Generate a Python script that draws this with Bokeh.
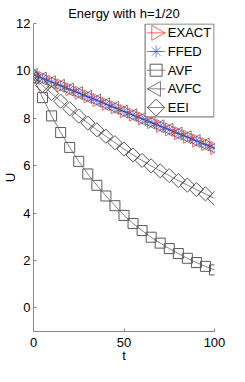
import math
from bokeh.plotting import figure
from bokeh.models import FixedTicker, ColumnDataSource
from bokeh.core.properties import value
from bokeh.embed import file_html
from bokeh.resources import INLINE

t = [0, 5, 10, 15, 20, 25, 30, 35, 40, 45, 50, 55, 60, 65, 70, 75, 80, 85, 90, 95, 100]
exact = [9.85, 9.70, 9.54, 9.39, 9.23, 9.08, 8.92, 8.77, 8.61, 8.46, 8.30,
         8.15, 7.99, 7.84, 7.68, 7.53, 7.37, 7.22, 7.06, 6.91, 6.75]
ffed = [9.84, 9.69, 9.53, 9.38, 9.22, 9.07, 8.91, 8.76, 8.60, 8.45, 8.29,
        8.14, 7.98, 7.83, 7.67, 7.52, 7.36, 7.21, 7.05, 6.90, 6.74]
avf = [9.70, 8.87, 8.10, 7.40, 6.77, 6.18, 5.65, 5.17, 4.72, 4.31, 3.90,
       3.56, 3.26, 2.98, 2.73, 2.50, 2.29, 2.09, 1.91, 1.75, 1.60]
avfc = [9.83, 9.68, 9.52, 9.37, 9.21, 9.06, 8.90, 8.75, 8.59, 8.44, 8.28,
        8.13, 7.97, 7.82, 7.66, 7.51, 7.35, 7.20, 7.04, 6.89, 6.73]
eei = [9.75, 9.39, 9.05, 8.72, 8.40, 8.09, 7.80, 7.51, 7.24, 6.97, 6.70,
       6.45, 6.22, 5.99, 5.78, 5.58, 5.37, 5.18, 4.99, 4.81, 4.62]
legend_labels = ["EXACT", "FFED", "AVF", "AVFC", "EEI"]
x_ticks = [0, 50, 100]
y_ticks = [0, 2, 4, 6, 8, 10, 12]
title_text = "Energy with h=1/20"

FONT = "Liberation Sans"
X0, X1, Y0, Y1 = 0, 100, -1, 12
FW, FH = 186, 310
n = len(t)

def tx(px):
    return X0 + px * (X1 - X0) / FW

def uy(px):
    return Y1 - px * (Y1 - Y0) / FH

src = ColumnDataSource(dict(
    t=t, exact=exact, ffed=ffed, avf=avf, avfc=avfc, eei=eei,
    right=[-math.pi / 2] * n, left=[math.pi / 2] * n, diag=[math.pi / 4] * n,
))

p = figure(width=229, height=366, x_range=(X0, X1), y_range=(Y0, Y1),
           output_backend="svg", toolbar_location=None,
           min_border_left=28, min_border_right=15, min_border_top=21, min_border_bottom=35)
p.outline_line_color = None
p.grid.visible = False
p.background_fill_color = "white"

p.title.text = title_text
p.title.align = "center"
p.title.text_font = FONT
p.title.text_font_size = "13px"
p.title.text_font_style = "normal"
p.title.text_color = "black"
p.title.standoff = 6

for ax in (p.xaxis[0], p.yaxis[0]):
    ax.axis_line_color = "#888888"
    ax.major_tick_line_color = "#888888"
    ax.major_tick_in = 3
    ax.major_tick_out = 0
    ax.minor_tick_line_color = None
    ax.major_label_text_font = FONT
    ax.major_label_text_font_size = "13px"
    ax.major_label_text_color = "black"
    ax.axis_label_text_font = FONT
    ax.axis_label_text_font_size = "13px"
    ax.axis_label_text_font_style = "normal"
    ax.axis_label_text_color = "black"
p.xaxis.ticker = FixedTicker(ticks=x_ticks)
p.yaxis.ticker = FixedTicker(ticks=y_ticks)
p.xaxis.major_label_standoff = 6
p.yaxis.major_label_standoff = 3
p.xaxis.axis_label = "t"
p.xaxis.axis_label_standoff = -2
p.yaxis.axis_label = "U"
p.yaxis.axis_label_standoff = -5

red = "#ff3b3b"
blue = "#4a5aff"
gray = "#5a5a5a"
dark = "#333333"

styles = [
    dict(col="exact", lc=red, lw=0.8, marker="triangle", size=13, angle="right", mc=red, mw=0.8),
    dict(col="ffed", lc=blue, lw=0.8, marker="asterisk", size=10, angle=None, mc=blue, mw=0.8),
    dict(col="avf", lc=dark, lw=0.6, marker="square", size=10, angle=None, mc=gray, mw=1.0),
    dict(col="avfc", lc=dark, lw=0.6, marker="triangle", size=13, angle="left", mc=gray, mw=0.8),
    dict(col="eei", lc=dark, lw=0.6, marker="square", size=10, angle="diag", mc=gray, mw=1.0),
]
angles = {"right": -math.pi / 2, "left": math.pi / 2, "diag": math.pi / 4, None: 0.0}

for s in styles:
    p.line("t", s["col"], source=src, line_color=s["lc"], line_width=s["lw"])
    kw = dict(marker=s["marker"], size=s["size"], line_color=s["mc"],
              fill_color=None, line_width=s["mw"])
    if s["angle"]:
        kw["angle"] = s["angle"]
    p.scatter("t", s["col"], source=src, **kw)

# legend box (manual, so markers keep their orientation and size)
p.quad(left=tx(114.7), right=tx(185.5), top=uy(0.5), bottom=uy(94),
       fill_color="white", line_color="#666666", line_width=1)
row_px = [9.4 + 18.8 * i for i in range(len(legend_labels))]
for s, lab, ry in zip(styles, legend_labels, row_px):
    yy = uy(ry)
    p.segment(x0=[tx(116.5)], y0=[yy], x1=[tx(135.5)], y1=[yy],
              line_color=s["lc"], line_width=s["lw"])
    p.scatter([tx(126)], [yy], marker=s["marker"], size=s["size"] + 2,
              angle=angles[s["angle"]], line_color=s["mc"], fill_color=None,
              line_width=s["mw"])
p.text(x=[tx(138)] * len(legend_labels), y=[uy(r) for r in row_px], text=legend_labels,
       text_font=value(FONT), text_font_size="13px", text_baseline="middle",
       text_align="left", text_color="black")

open("out.html", "w").write(file_html(p, INLINE))
